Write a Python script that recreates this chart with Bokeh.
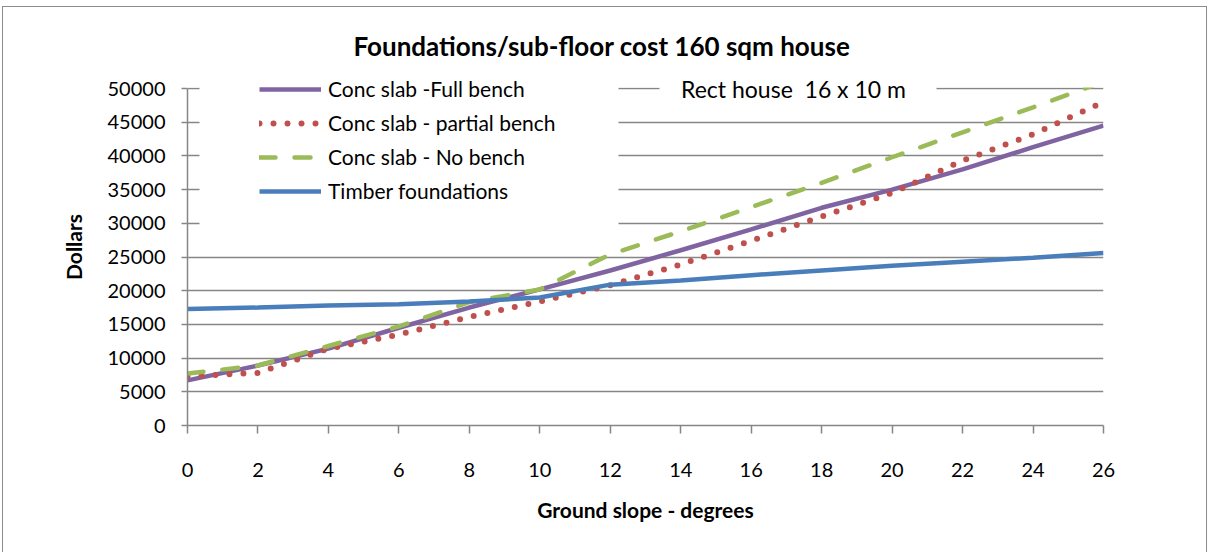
from bokeh.plotting import figure
from bokeh.models import FixedTicker, Legend, LegendItem, Label, BoxAnnotation, Range1d
from bokeh.embed import file_html
from bokeh.resources import INLINE

# ---- data ----
slope = [0, 2, 4, 6, 8, 10, 12, 14, 16, 18, 20, 22, 24, 26]
full_bench = [6700, 8900, 11400, 14500, 17500, 20200, 23000, 26000, 29100, 32300, 35000, 38000, 41300, 44500]
partial_bench = [7300, 7800, 11400, 13500, 16100, 18400, 20800, 23900, 27400, 31000, 34500, 39300, 43200, 48000]
no_bench = [7700, 8900, 11800, 14700, 18300, 20200, 25400, 28800, 32400, 36000, 39800, 43500, 47200, 51000]
timber = [17300, 17500, 17800, 18000, 18400, 19000, 20900, 21500, 22300, 23000, 23700, 24300, 24900, 25600]

x_ticks = [0, 2, 4, 6, 8, 10, 12, 14, 16, 18, 20, 22, 24, 26]
y_ticks = [0, 5000, 10000, 15000, 20000, 25000, 30000, 35000, 40000, 45000, 50000]
y_max = 50000

series_names = ["Conc slab -Full bench", "Conc slab - partial bench", "Conc slab - No bench", "Timber foundations"]
title_text = "Foundations/sub-floor cost 160 sqm house"
note_text = "Rect house\u00a0\u00a016 x 10\u00a0m"
x_label = "Ground slope - degrees"
y_label = "Dollars"

FONT = "Lato"
GREY = "#868686"

PLOT_H = 337          # pixels for 0..y_max
HEAD = 20             # extra frame room above y_max for legend/note
y_top = y_max * (PLOT_H + HEAD) / PLOT_H

p = figure(width=1205, height=546, output_backend="svg", toolbar_location=None,
           x_range=Range1d(0, 26), y_range=Range1d(0, y_top),
           min_border_left=184, min_border_right=105, min_border_top=61, min_border_bottom=128)
p.styles = {"border-left": "1px solid #8c8c8c", "border-top": "1px solid #8c8c8c",
            "border-right": "1px solid #8c8c8c", "margin-left": "2px", "margin-top": "6px"}
p.outline_line_color = None
p.background_fill_color = "white"
p.border_fill_color = "white"

p.title.text = title_text
p.title.align = "left"
p.title.offset = 166
p.title.text_font = FONT
p.title.text_font_style = "bold"
p.title.text_font_size = "26px"
p.title.text_color = "black"
p.title.standoff = 13

# axes
p.xaxis.ticker = FixedTicker(ticks=x_ticks)
p.yaxis.ticker = FixedTicker(ticks=y_ticks)
p.yaxis.bounds = (0, y_max)
for ax in (p.xaxis, p.yaxis):
    ax.axis_line_color = GREY
    ax.axis_line_width = 1.5
    ax.major_tick_line_color = GREY
    ax.major_tick_line_width = 1.5
    ax.major_tick_in = 0
    ax.minor_tick_line_color = None
    ax.major_label_text_font = FONT
    ax.major_label_text_font_size = "20px"
    ax.major_label_text_color = "black"
    ax.axis_label_text_font = FONT
    ax.axis_label_text_font_style = "bold"
    ax.axis_label_text_font_size = "21px"
    ax.axis_label_text_color = "black"
p.xaxis.major_tick_out = 8
p.yaxis.major_tick_out = 6
p.xaxis.major_label_standoff = 29
p.yaxis.major_label_standoff = 16
p.xaxis.axis_label = x_label
p.yaxis.axis_label = y_label
p.xaxis.axis_label_standoff = 17
p.yaxis.axis_label_standoff = 19

p.xgrid.visible = False
p.ygrid.grid_line_color = GREY
p.ygrid.grid_line_width = 1.6

# lines
r1 = p.line(slope, full_bench, line_color="#8064A2", line_width=4.5)
r2 = p.line(slope, partial_bench, line_color="#C0504D", line_width=6,
            line_dash="0 14", line_cap="round")
r3 = p.line(slope, no_bench, line_color="#9BBB59", line_width=4.5,
            line_dash="16 19", line_cap="round")
r4 = p.line(slope, timber, line_color="#4A7EBB", line_width=4.5)

def white_box(l, r, b, t):
    return BoxAnnotation(left=l, right=r, bottom=b, top=t,
                         left_units="screen", right_units="screen",
                         bottom_units="screen", top_units="screen",
                         fill_color="white", fill_alpha=1, line_color=None)

# plot area ends at y_max: hide what lies above it, and the grid behind legend and note
p.add_layout(white_box(-5, 925, PLOT_H + 1, PLOT_H + HEAD + 5))
p.add_layout(white_box(12, 431, 186, PLOT_H + HEAD + 5))
p.add_layout(white_box(472, 749, PLOT_H - 8, PLOT_H + 8))

legend = Legend(items=[LegendItem(label=n, renderers=[r]) for n, r in zip(series_names, [r1, r2, r3, r4])],
                location=(72, 222), background_fill_alpha=0, border_line_color=None,
                padding=0, margin=0, glyph_width=62, glyph_height=24, label_height=24,
                spacing=9, label_standoff=7, label_text_font=FONT, label_text_font_size="21px",
                label_text_color="black")
p.add_layout(legend)

p.add_layout(Label(x=606, y=PLOT_H, x_units="screen", y_units="screen", text=note_text,
                   text_align="center", text_baseline="middle", text_font=FONT,
                   text_font_size="23px", text_color="black"))

open("out.html", "w").write(file_html(p, INLINE))
